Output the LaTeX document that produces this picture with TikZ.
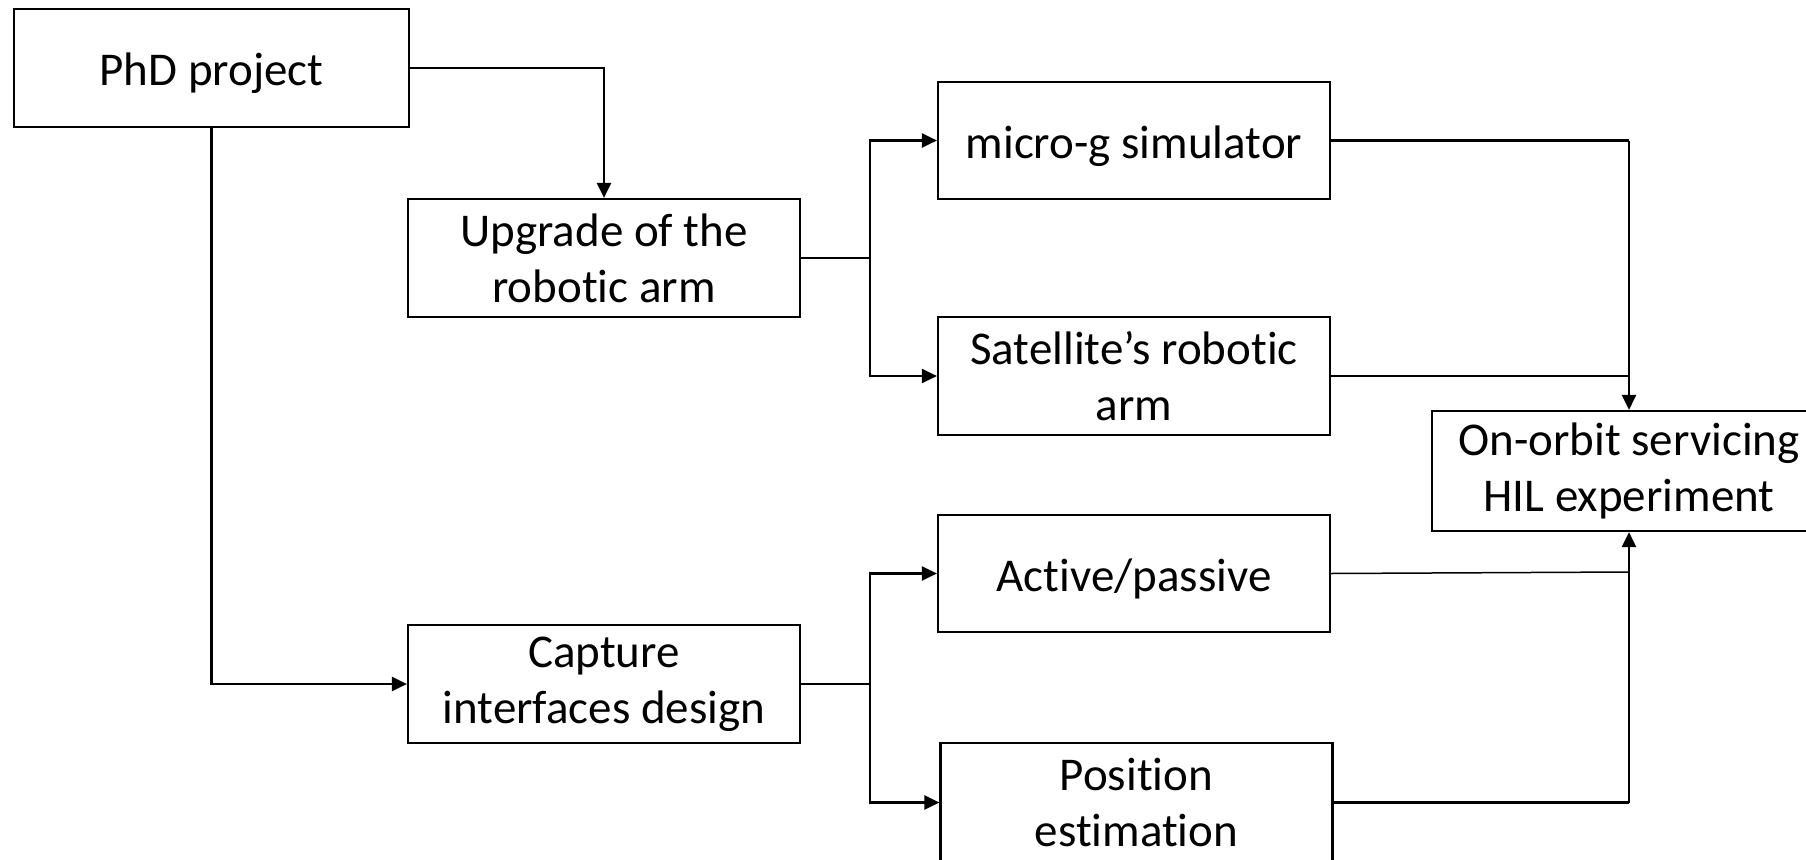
\documentclass[tikz,border=0pt]{standalone}
\usepackage{fontspec}
\setmainfont[Ligatures={NoCommon,NoRequired,NoContextual}]{Carlito}
\usetikzlibrary{arrows.meta}
% strut that sets the baseline of one-line labels
\newcommand\boxstrut{\rule[-14pt]{0pt}{63pt}}
% keeps "t" and "i" as separate glyphs
\newcommand\ti{t\kern0pt i}
\begin{document}
\begin{tikzpicture}[x=1pt,y=-1pt,
  box/.style={draw=black, line width=2.2pt, fill=white, align=center,
    inner sep=0pt, font=\fontsize{47}{56}\selectfont,
    minimum width=392pt, minimum height=118pt},
  link/.style={draw=black, line width=2.4pt},
  thinlink/.style={draw=black, line width=1.5pt},
  arr/.style={link, -{Triangle[length=15pt,width=14pt]}}]
\useasboundingbox[clip] (0,0) rectangle (1806,859);
\fill[white] (0,0) rectangle (1806,859);

% boxes
\node[box, minimum width=395pt] (phd) at (211.5,68) {\boxstrut PhD project};
\node[box] (upg) at (604,258) {Upgrade of the\\robo\ti c arm};
\node[box] (cap) at (604,684) {Capture\\interfaces design};
\node[box, minimum height=117pt] (mic) at (1134,140.5) {\boxstrut micro-g simulator};
\node[box] (sat) at (1134,376) {Satellite’s robo\ti c\\arm};
\node[box, minimum height=117pt] (act) at (1134,573.5) {\boxstrut Ac\ti ve/passive};
\node[box, minimum height=119pt] (pos) at (1136.5,802.5) {Posi\ti on\\es\ti ma\ti on};
\node[box, minimum width=394pt, minimum height=120pt] (oos) at (1629,471) {On-orbit servicing\\HIL experiment};

% junction points
\coordinate (jup) at (870,258);
\coordinate (jlo) at (870,684);
\coordinate (rtop) at (1629,140.5);
\coordinate (rbot) at (1629,802.5);

% PhD project to its two work packages
\draw[arr] (phd.east) -| (upg.north);
\draw[arr] (phd.south) |- (cap.west);

% upgrade branch
\draw[link] (upg.east) -- (jup);
\draw[arr] (jup) |- (mic.west);
\draw[arr] (jup) |- (sat.west);

% capture interface branch
\draw[link] (cap.east) -- (jlo);
\draw[arr] (jlo) |- (act.west);
\draw[arr] (jlo) |- (pos.west);

% convergence on the experiment
\draw[link] (mic.east) -- (rtop);
\draw[arr] (rtop) -- (oos.north);
\draw[thinlink] (sat.east) -- (sat.east -| rtop);
\draw[link] (pos.east) -- (rbot);
\draw[arr] (rbot) -- (oos.south);
\draw[thinlink] (act.east) -- (1629,572);
\end{tikzpicture}
\end{document}
